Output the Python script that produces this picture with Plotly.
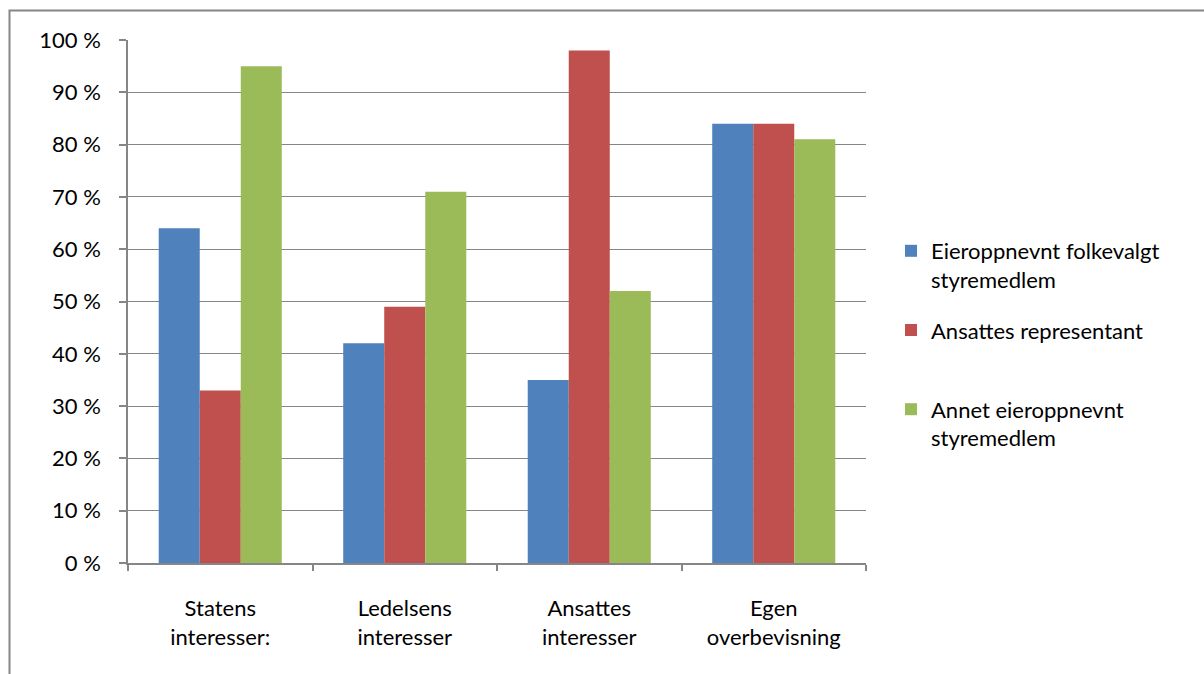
import plotly.graph_objects as go

categories = ["Statens<br>interesser:", "Ledelsens<br>interesser", "Ansattes<br>interesser", "Egen<br>overbevisning"]
series_names = [
    "Eieroppnevnt folkevalgt<br>styremedlem",
    "Ansattes representant<br> ",
    "Annet eieroppnevnt<br>styremedlem",
]
folkevalgt = [64, 42, 35, 84]
ansattes_rep = [33, 49, 98, 84]
annet = [95, 71, 52, 81]
tick_values = [0, 10, 20, 30, 40, 50, 60, 70, 80, 90, 100]
tick_labels = [f"{v} %" for v in tick_values]

colors = ["#4F81BD", "#C0504D", "#9BBB59"]
FONT = "Lato, 'Open Sans', sans-serif"
FS = 22
GRID = "#868686"

fig = go.Figure()
for i, (name, vals) in enumerate(zip(series_names, [folkevalgt, ansattes_rep, annet])):
    fig.add_trace(go.Bar(
        x=categories, y=vals, name=name,
        marker=dict(color=colors[i], line=dict(width=0)),
        legendgroup=f"g{i}",
    ))

fig.update_layout(
    width=1204, height=674,
    margin=dict(l=128, r=338, t=40, b=111),
    paper_bgcolor="white", plot_bgcolor="white",
    barmode="group", bargap=0.333, bargroupgap=0,
    font=dict(family=FONT, size=FS, color="#000000"),
    showlegend=True,
    legend=dict(
        x=(891 - 128) / 738, xanchor="left",
        y=(563 - 230) / 523, yanchor="top",
        valign="top", tracegroupgap=19, itemwidth=30,
        font=dict(family=FONT, size=FS, color="#000000"),
        bgcolor="rgba(0,0,0,0)",
    ),
    shapes=[dict(
        type="rect", xref="paper", yref="paper",
        x0=(9.5 - 128) / 738, x1=(1220 - 128) / 738,
        y0=(563 - 700) / 523, y1=(563 - 10.5) / 523,
        line=dict(color=GRID, width=2), fillcolor="rgba(0,0,0,0)", layer="below",
    )],
)

fig.update_xaxes(
    type="category", showline=True, linecolor=GRID, linewidth=1.5,
    ticks="outside", tickson="boundaries", ticklen=6, tickcolor=GRID, tickwidth=1.5,
    showgrid=False, ticklabelstandoff=25,
    tickfont=dict(family=FONT, size=FS, color="#000000"),
)
fig.update_yaxes(
    range=[0, 100], tickvals=tick_values, ticktext=tick_labels,
    showline=True, linecolor=GRID, linewidth=1.5,
    ticks="outside", ticklen=7, tickcolor=GRID, tickwidth=1.5,
    showgrid=True, gridcolor=GRID, gridwidth=1.2, zeroline=False,
    ticklabelstandoff=14,
    tickfont=dict(family=FONT, size=FS, color="#000000"),
)

fig.write_html("out.html")
